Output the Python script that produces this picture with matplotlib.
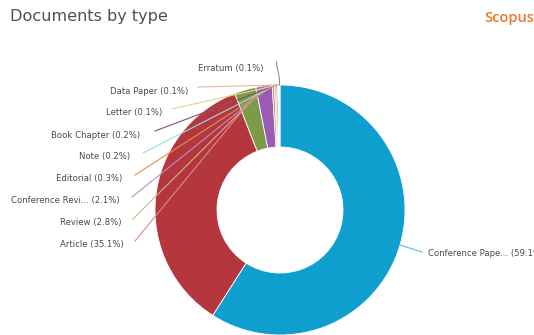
import numpy as np
import matplotlib.pyplot as plt

# Document counts by type, in percent
doc_types = ["Conference Pape...", "Article", "Review", "Conference Revi...",
             "Editorial", "Note", "Book Chapter", "Letter", "Data Paper", "Erratum"]
shares = [59.1, 35.1, 2.8, 2.1, 0.3, 0.2, 0.2, 0.1, 0.1, 0.1]
colors = ["#0f9fcf", "#b5373d", "#7b9b48", "#9a5bb4", "#e9883a",
          "#7fd0dc", "#7b3450", "#e6d26a", "#f2a98a", "#a86b63"]
line_colors = ["#5fb8d8", "#d58a8c", "#cbb488", "#b58fc6", "#d9925a",
               "#9edbe4", "#8d4f6a", "#e3d68a", "#e8b4a0", "#a88884"]

# label layout in pixels (x, y from top); left labels are right-aligned
label_pos = [(428, 254), (124, 244), (121, 222), (120, 200), (122, 179),
             (130, 157), (140, 135), (162, 113), (188, 91), (263, 69)]
line_start = [(422, 252), (135, 241), (133, 219), (132, 197), (135, 175),
              (143, 153), (155, 131), (172, 109), (198, 87), None]
anchor_deg = [None, 352, 354, 356, 357.5, 358, 358.5, 359, 359.4, 359.8]

W, H = 534, 335
cx, cy, R, ring = 280, H - 210, 125, 62

fig = plt.figure(figsize=(W / 100, H / 100), dpi=100)
ax = fig.add_axes([0, 0, 1, 1])
ax.axis("off")

ax.pie(shares, colors=colors, startangle=90, counterclock=False,
       center=(cx, cy), radius=R,
       wedgeprops=dict(width=ring, edgecolor="white", linewidth=0.6))
ax.set_xlim(0, W)
ax.set_ylim(0, H)
ax.set_aspect("equal")

label_kw = dict(va="center", fontsize=6.1, color="#4a4a4a")

total = sum(shares)
cum = np.cumsum([0] + shares) / total * 360
for i, (name, val) in enumerate(zip(doc_types, shares)):
    text = f"{name} ({val}%)"
    lx, ly = label_pos[i]
    if i == 0:
        mid = np.radians((cum[0] + cum[1]) / 2)
        px, py = cx + R * np.sin(mid), cy + R * np.cos(mid)
        sx, sy = line_start[i]
        ax.plot([px, sx], [py, H - sy], color=line_colors[i], lw=0.8)
        ax.text(lx, H - ly, text, ha="left", **label_kw)
        continue
    a = np.radians(anchor_deg[i])
    px, py = cx + R * np.sin(a), cy + R * np.cos(a)
    if line_start[i] is None:
        # erratum connector bends over the top of the ring
        t = np.linspace(0, 1, 30)
        xs = px - 3 * np.sin(t * np.pi / 2) ** 3
        ys = py + (H - 62 - py) * t
        ax.plot(xs, ys, color=line_colors[i], lw=0.8)
        ax.text(lx, H - ly, text, ha="right", **label_kw)
        continue
    sx, sy = line_start[i]
    ax.plot([sx, px], [H - sy, py], color=line_colors[i], lw=0.8)
    ax.text(lx, H - ly, text, ha="right", **label_kw)

fig.text(10 / W, 1 - 17 / H, "Documents by type", fontsize=11.6,
         color="#505050", va="center", ha="left")
fig.text(1, 1 - 18 / H, "Scopus", fontsize=10.5, color="#e8782a",
         family="Open Sans", weight="semibold", va="center", ha="right")

fig.savefig("out.png", dpi=100)
